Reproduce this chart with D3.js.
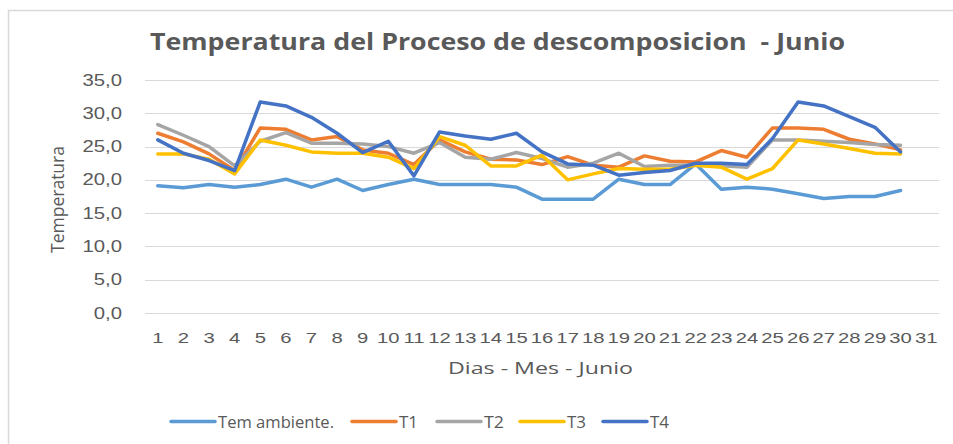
<!DOCTYPE html>
<html>
<head>
<meta charset="utf-8">
<script src="https://cdn.jsdelivr.net/npm/d3@7"></script>
<style>
  body { margin: 0; background: #fff; }
  svg { display: block; font-family: "Open Sans", "Liberation Sans", sans-serif; }
</style>
</head>
<body>
<div id="chart"></div>
<script>
const days = d3.range(1, 32).map(String)
const yTicks = [0, 5, 10, 15, 20, 25, 30, 35]
const seriesNames = ['Tem ambiente.', 'T1', 'T2', 'T3', 'T4']
const colors = ['#5B9BD5', '#ED7D31', '#A5A5A5', '#FFC000', '#4472C4']

const temAmbiente = [19.1, 18.8, 19.3, 18.9, 19.3, 20.1, 18.9, 20.1, 18.4, 19.3,
  20.1, 19.3, 19.3, 19.3, 18.9, 17.1, 17.1, 17.1, 20.1, 19.3,
  19.3, 22.4, 18.6, 18.9, 18.6, 17.9, 17.2, 17.5, 17.5, 18.4]
const t1 = [27.0, 25.7, 23.9, 21.4, 27.8, 27.6, 26.0, 26.5, 24.5, 24.0,
  22.3, 26.0, 24.2, 23.1, 23.0, 22.3, 23.5, 22.2, 21.9, 23.6,
  22.8, 22.7, 24.4, 23.4, 27.8, 27.8, 27.6, 26.1, 25.4, 24.5]
const t2 = [28.3, 26.7, 25.0, 22.1, 25.8, 27.1, 25.5, 25.5, 25.4, 25.0,
  24.0, 25.6, 23.4, 23.1, 24.1, 23.2, 21.9, 22.5, 24.0, 22.0,
  22.2, 22.2, 22.1, 21.9, 26.0, 26.0, 25.8, 25.6, 25.3, 25.2]
const t3 = [23.9, 23.9, 23.1, 20.9, 26.0, 25.2, 24.2, 24.0, 24.0, 23.4,
  21.7, 26.5, 25.2, 22.1, 22.1, 23.7, 20.0, 20.9, 21.7, 21.6,
  21.6, 22.2, 21.9, 20.1, 21.7, 26.0, 25.4, 24.7, 24.0, 23.9]
const t4 = [26.0, 24.0, 22.9, 21.4, 31.7, 31.1, 29.4, 27.0, 24.1, 25.8,
  20.6, 27.2, 26.6, 26.1, 27.0, 24.2, 22.4, 22.2, 20.7, 21.1,
  21.4, 22.5, 22.5, 22.3, 26.2, 31.7, 31.1, 29.5, 27.9, 24.2]

const allSeries = [temAmbiente, t1, t2, t3, t4]

const width = 953
const height = 444
const margin = { top: 80, right: 14, bottom: 131, left: 145 }
const textColor = '#595959'

// the original picture is a bit wider than tall, so text gets stretched sideways
function stretch(sel, k) {
  sel.each(function () {
    const w = this.getComputedTextLength()
    d3.select(this)
      .attr('textLength', w * k)
      .attr('lengthAdjust', 'spacingAndGlyphs')
  })
}

const svg = d3.select('#chart')
  .append('svg')
  .attr('width', width)
  .attr('height', height)

// outer chart border
svg.append('rect')
  .attr('x', 8.5).attr('y', 10.5)
  .attr('width', width + 10).attr('height', height + 10)
  .attr('fill', 'none')
  .attr('stroke', '#D9D9D9')
  .attr('stroke-width', 1.5)

const x = d3.scaleBand()
  .domain(days)
  .range([margin.left, width - margin.right])

const y = d3.scaleLinear()
  .domain([0, 35])
  .range([height - margin.bottom, margin.top])

// gridlines
svg.append('g')
  .selectAll('line')
  .data(yTicks)
  .join('line')
  .attr('x1', margin.left)
  .attr('x2', width - margin.right)
  .attr('y1', d => Math.round(y(d)) + 0.5)
  .attr('y2', d => Math.round(y(d)) + 0.5)
  .attr('stroke', '#D9D9D9')
  .attr('stroke-width', 1)

// y axis labels
const yAxis = svg.append('g')
  .attr('transform', `translate(${margin.left},0)`)
  .call(d3.axisLeft(y).tickValues(yTicks).tickSize(0).tickPadding(23)
    .tickFormat(d => d3.format('.1f')(d).replace('.', ',')))
yAxis.select('.domain').remove()
yAxis.selectAll('text')
  .attr('fill', textColor)
  .style('font-size', '16px')
  .call(stretch, 1.27)

// x axis labels
const xAxis = svg.append('g')
  .attr('transform', `translate(0,${height - margin.bottom})`)
  .call(d3.axisBottom(x).tickSize(0).tickPadding(19))
xAxis.select('.domain').remove()
xAxis.selectAll('text')
  .attr('fill', textColor)
  .style('font-size', '15px')
  .call(stretch, 1.35)

// lines
const line = d3.line()
  .x((d, i) => x(days[i]) + x.bandwidth() / 2)
  .y(d => y(d))

svg.append('g')
  .selectAll('path')
  .data(allSeries)
  .join('path')
  .attr('d', d => line(d))
  .attr('fill', 'none')
  .attr('stroke', (d, i) => colors[i])
  .attr('stroke-width', 3.5)
  .attr('stroke-linejoin', 'round')
  .attr('stroke-linecap', 'round')

// title
svg.append('text')
  .attr('x', 497.5)
  .attr('y', 50)
  .attr('text-anchor', 'middle')
  .attr('fill', textColor)
  .attr('textLength', 695)
  .attr('lengthAdjust', 'spacingAndGlyphs')
  .style('font-size', '23px')
  .style('font-weight', 'bold')
  .style('white-space', 'pre')
  .text('Temperatura del Proceso de descomposicion  - Junio')

// axis titles
svg.append('text')
  .attr('transform', `translate(64,199.5) rotate(-90)`)
  .attr('text-anchor', 'middle')
  .attr('fill', textColor)
  .attr('textLength', 107)
  .attr('lengthAdjust', 'spacingAndGlyphs')
  .style('font-size', '19px')
  .text('Temperatura')

svg.append('text')
  .attr('x', 540.5)
  .attr('y', 374)
  .attr('text-anchor', 'middle')
  .attr('fill', textColor)
  .attr('textLength', 185)
  .attr('lengthAdjust', 'spacingAndGlyphs')
  .style('font-size', '17px')
  .text('Dias - Mes - Junio')

// legend
const legendX = [171, 352, 437, 520, 603]
const legendW = [116, 19, 20, 19, 19]
const legend = svg.append('g')
  .selectAll('g')
  .data(seriesNames)
  .join('g')
  .attr('transform', (d, i) => `translate(${legendX[i]},421.5)`)

legend.append('line')
  .attr('x1', 0).attr('x2', 44)
  .attr('stroke', (d, i) => colors[i])
  .attr('stroke-width', 3.5)
  .attr('stroke-linecap', 'round')

legend.append('text')
  .attr('x', 47)
  .attr('y', 6)
  .attr('fill', textColor)
  .attr('textLength', (d, i) => legendW[i])
  .attr('lengthAdjust', 'spacingAndGlyphs')
  .style('font-size', '16px')
  .text(d => d)
</script>
</body>
</html>
